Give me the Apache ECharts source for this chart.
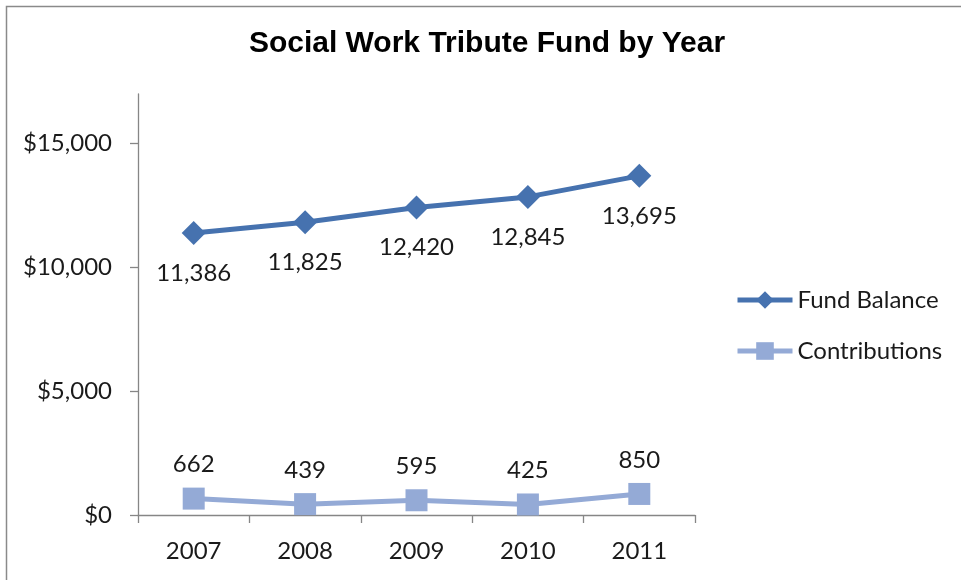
<!DOCTYPE html>
<html>
<head>
<meta charset="utf-8">
<script src="https://cdn.jsdelivr.net/npm/echarts@6/dist/echarts.min.js"></script>
<style>html,body{margin:0;padding:0;background:#fff}#c{width:961px;height:580px}</style>
</head>
<body>
<div id="c"></div>
<script>
const years = ['2007', '2008', '2009', '2010', '2011'];
const fundBalance = [11386, 11825, 12420, 12845, 13695];
const contributions = [662, 439, 595, 425, 850];
const yTicks = [0, 5000, 10000, 15000];
const yMax = 17000;

const chart = echarts.init(document.getElementById('c'), null, {renderer: 'canvas'});
const labelFont = 'Lato, "Open Sans", sans-serif';
const fmt = v => v.toLocaleString('en-US');
chart.setOption({
  animation: false,
  backgroundColor: '#fff',
  graphic: [{
    type: 'rect', left: 4, top: 4, silent: true,
    shape: {width: 1000, height: 700},
    style: {fill: 'none', stroke: '#8a8a8a', lineWidth: 1.5}
  }],
  title: {
    text: 'Social Work Tribute Fund by Year',
    left: 487, textAlign: 'center', top: 29, padding: 0,
    textStyle: {fontFamily: '"Liberation Sans", Arial, sans-serif', fontWeight: 'bold', fontSize: 30, color: '#000'}
  },
  legend: {
    orient: 'vertical', left: 730, top: 283,
    itemWidth: 55, itemHeight: 22, itemGap: 27,
    lineStyle: {width: 5},
    textStyle: {fontFamily: labelFont, fontSize: 24, color: '#1a1a1a'},
    data: ['Fund Balance', 'Contributions']
  },
  grid: {left: 138, right: 266, top: 94, bottom: 65, containLabel: false},
  xAxis: {
    type: 'category', data: years, boundaryGap: true,
    axisLine: {lineStyle: {color: '#868686', width: 1.3}},
    axisTick: {show: true, length: 8, alignWithLabel: false, lineStyle: {color: '#868686', width: 1.3}},
    axisLabel: {margin: 24, fontFamily: labelFont, fontSize: 24, color: '#1a1a1a'}
  },
  yAxis: {
    type: 'value', min: 0, max: yMax,
    splitLine: {show: false},
    axisLine: {show: true, lineStyle: {color: '#868686', width: 1.3}},
    axisTick: {show: true, length: 8, customValues: yTicks, lineStyle: {color: '#868686', width: 1.3}},
    axisLabel: {margin: 26, customValues: yTicks, fontFamily: labelFont, fontSize: 24, color: '#1a1a1a',
      formatter: v => '$' + fmt(v)}
  },
  series: [{
    name: 'Fund Balance', type: 'line', data: fundBalance,
    symbol: 'diamond', symbolSize: 24,
    lineStyle: {width: 5, color: '#4672AF'},
    itemStyle: {color: '#4672AF'},
    label: {show: true, position: 'bottom', distance: 16, fontFamily: labelFont, fontSize: 24, color: '#1a1a1a',
      formatter: p => fmt(p.value)}
  }, {
    name: 'Contributions', type: 'line', data: contributions,
    symbol: 'rect', symbolSize: 22,
    lineStyle: {width: 5, color: '#94AAD6'},
    itemStyle: {color: '#94AAD6'},
    label: {show: true, position: 'top', distance: 11, fontFamily: labelFont, fontSize: 24, color: '#1a1a1a',
      formatter: p => fmt(p.value)}
  }]
});
</script>
</body>
</html>
